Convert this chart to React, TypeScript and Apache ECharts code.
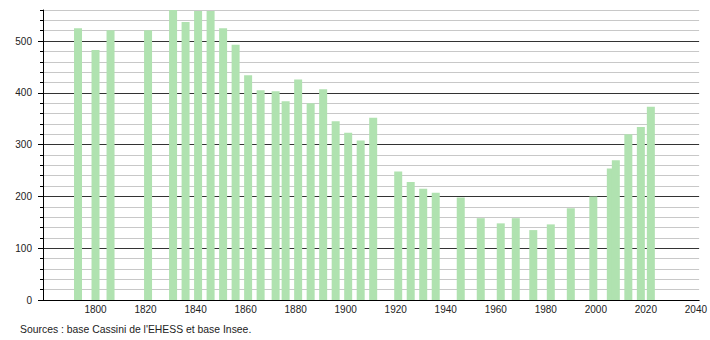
import React, { useEffect, useRef } from "react";
import * as echarts from "echarts";

const years = [
  1793, 1800, 1806, 1821, 1831, 1836, 1841, 1846, 1851, 1856, 1861, 1866, 1872,
  1876, 1881, 1886, 1891, 1896, 1901, 1906, 1911, 1921, 1926, 1931, 1936, 1946,
  1954, 1962, 1968, 1975, 1982, 1990, 1999, 2006, 2008, 2013, 2018, 2022,
];
const populations = [
  525, 483, 521, 521, 560, 537, 558, 558, 525, 493, 434, 405, 403, 384, 426, 380,
  407, 345, 323, 308, 352, 248, 228, 215, 207, 198, 158, 148, 158, 135, 146, 177,
  200, 254, 270, 320, 334, 373,
];
const xTickLabels = [1800, 1820, 1840, 1860, 1880, 1900, 1920, 1940, 1960, 1980, 2000, 2020, 2040];
const yTickLabels = [0, 100, 200, 300, 400, 500];
const sourceText = "Sources : base Cassini de l'EHESS et base Insee.";

const FONT = "'Liberation Sans', Arial, sans-serif";

export default function App() {
  const ref = useRef<HTMLDivElement>(null);
  useEffect(() => {
    if (!ref.current) return;
    const chart = echarts.init(ref.current, undefined, { renderer: "svg" });
    chart.setOption({
      animation: false,
      backgroundColor: "#ffffff",
      grid: { left: 43, right: 10, top: 10, bottom: 40, containLabel: false },
      xAxis: {
        type: "value",
        min: 1779,
        max: 2041.3,
        axisLine: { show: true, lineStyle: { color: "#000", width: 1 } },
        axisTick: { show: false },
        splitLine: { show: false },
        axisLabel: {
          customValues: xTickLabels,
          formatter: (v: number) => String(v),
          margin: 4,
          color: "#222",
          fontSize: 10,
          fontFamily: FONT,
        },
      },
      yAxis: [
        {
          type: "value",
          min: 0,
          max: 560,
          interval: 20,
          position: "left",
          axisLine: { show: true, lineStyle: { color: "#000", width: 1 } },
          axisTick: { show: true, length: 3, lineStyle: { color: "#000" } },
          axisLabel: { show: false },
          splitLine: {
            show: true,
            lineStyle: { color: ["#333", "#c8c8c8", "#c8c8c8", "#c8c8c8", "#c8c8c8"], width: 1 },
          },
        },
        {
          type: "value",
          min: 0,
          max: 560,
          position: "left",
          axisLine: { show: false },
          axisTick: { show: true, length: 5, customValues: yTickLabels, lineStyle: { color: "#000" } },
          axisLabel: {
            customValues: yTickLabels,
            formatter: (v: number) => String(v),
            margin: 11,
            color: "#222",
            fontSize: 10,
            fontFamily: FONT,
          },
          splitLine: { show: false },
        },
      ],
      graphic: [
        {
          type: "text",
          left: 20,
          top: 324,
          style: { text: sourceText, fill: "#222", fontSize: 10.4, fontFamily: FONT },
        },
      ],
      series: [
        {
          type: "bar",
          yAxisIndex: 0,
          barWidth: 8,
          itemStyle: { color: "#b0e2b0" },
          data: years.map((y, i) => [y, populations[i]]),
        },
      ],
    });
    return () => chart.dispose();
  }, []);
  return (
    <div
      ref={ref}
      style={{ position: "absolute", left: 0, top: 0, width: 710, height: 340 }}
    />
  );
}
